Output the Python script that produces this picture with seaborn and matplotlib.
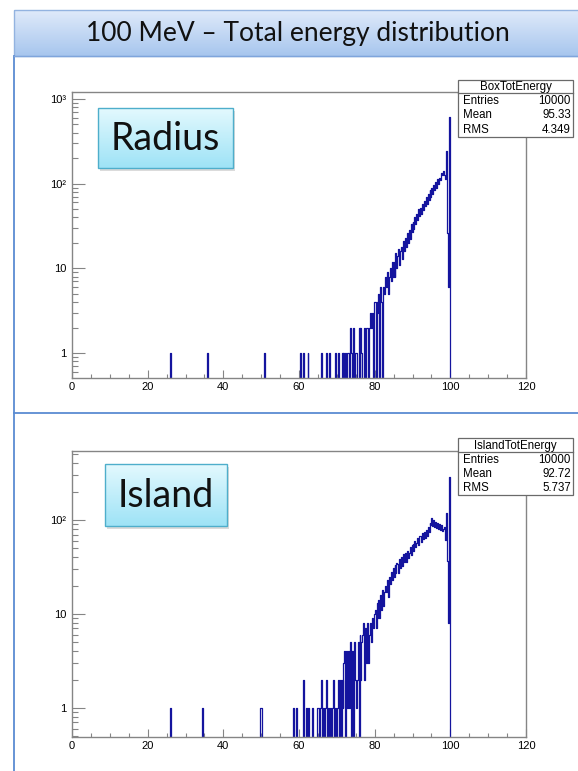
import numpy as np
import pandas as pd
import matplotlib
matplotlib.use("Agg")
import matplotlib.pyplot as plt
import seaborn as sns
from matplotlib.patches import Rectangle
from matplotlib.ticker import FixedLocator, FixedFormatter, MultipleLocator, LogLocator, NullFormatter

# histogram binning (MeV)
bin_width = 0.25
x_ticks = [0, 20, 40, 60, 80, 100, 120]

# single entries below 60 MeV
radius_isolated = [26.1, 35.9, 50.8]
island_isolated = [26.1, 34.4, 49.8, 50.0, 58.5, 59.4]

# counts per 0.25 MeV bin from 60 to 100 MeV
radius_counts = [
    0, 1, 0, 0,   1, 0, 0, 0,   0, 1, 0, 0,   0, 0, 0, 0,   0, 0, 0, 0,
    0, 0, 0, 1,   0, 0, 0, 0,   0, 1, 0, 0,   1, 0, 0, 0,   0, 0, 1, 0,
    0, 1, 0, 0,   0, 1, 0, 1,   0, 1, 0, 1,   1, 0, 2, 1,   0, 2, 0, 1,
    1, 0, 0, 2,   0, 2, 1, 0,   0, 2, 0, 2,   2, 0, 2, 3,   2, 3, 0, 4,
    4, 0, 4, 3,   5, 0, 6, 4,   0, 6, 5, 8,   6, 9, 5, 8,   10, 7, 12, 8,
    12, 8, 15, 10,   14, 17, 11, 16,   18, 13, 21, 16,   23, 18, 26, 20,
    28, 22, 33, 27,   35, 29, 40, 33,   44, 37, 50, 41,   52, 44, 58, 49,
    62, 54, 70, 58,   75, 65, 84, 70,   88, 76, 96, 84,   104, 90, 115, 98,
    118, 112, 132, 125,   142, 125, 115, 245,   60, 26, 6, 620,
]
island_counts = [
    0, 0, 0, 0,   2, 0, 0, 1,   0, 0, 1, 0,   0, 0, 1, 0,   0, 0, 0, 1,
    1, 0, 1, 2,   0, 1, 0, 1,   1, 2, 0, 1,   0, 1, 0, 1,   2, 0, 1, 0,
    1, 2, 0, 2,   0, 2, 1, 3,   4, 0, 4, 1,   4, 1, 5, 0,   4, 0, 5, 2,
    1, 2, 5, 0,   6, 2, 5, 6,   8, 2, 7, 3,   8, 3, 6, 8,   5, 9, 7, 10,
    11, 7, 13, 9,   14, 9, 16, 11,   18, 12, 17, 20,   17, 23, 15, 25,
    21, 28, 23, 31,   25, 33, 27, 35,   34, 27, 38, 31,   40, 32, 43, 36,
    44, 36, 47, 39,   45, 52, 42, 54,   55, 47, 60, 52,   57, 65, 54, 67,
    68, 58, 73, 63,   75, 65, 79, 68,   84, 74, 92, 88,   105, 86, 99, 84,
    95, 82, 92, 80,   90, 79, 88, 76,   80, 84, 61, 118,   58, 37, 8, 285,
]

radius_stats = ["BoxTotEnergy", "10000", "95.33", "4.349"]
island_stats = ["IslandTotEnergy", "10000", "92.72", "5.737"]

W, H = 578, 771
line_color = "#14149e"
frame_color = "#858585"
root_font = ["Liberation Sans", "DejaVu Sans"]

fig = plt.figure(figsize=(W / 100, H / 100), dpi=100)

def fx(px):
    return px / W

def fy(py):
    return 1 - py / H

# background layer: title bar and slide frame lines
bg = fig.add_axes([0, 0, 1, 1], zorder=0)
grad = np.linspace(0, 1, 64)[:, None, None]
top_c = np.array([0.875, 0.918, 0.980])
bot_c = np.array([0.655, 0.776, 0.933])
bg.imshow(top_c + (bot_c - top_c) * grad, extent=(14, 580, 56, 10), aspect="auto", zorder=1)
bg.add_patch(Rectangle((14, 10), 570, 46, fill=False, ec="#93b3e0", lw=1.0, zorder=2))
bg.text(298, 33, "100 MeV \u2013 Total energy distribution", ha="center", va="center",
        fontsize=19, family=["Lato", "DejaVu Sans"], color="#111111", zorder=3)
bg.plot([14, 14], [56, H], color="#5b8bd2", lw=1.3, zorder=2)
bg.plot([14, W], [413, 413], color="#5b8bd2", lw=1.3, zorder=2)
bg.plot([14, W], [56, 56], color="#7fa5dc", lw=1.0, zorder=2)
bg.set_xlim(0, W)
bg.set_ylim(H, 0)
bg.axis("off")

n_bins = int(round(120 / bin_width))
centers = (np.arange(n_bins) + 0.5) * bin_width

def full_hist(isolated, counts):
    c = np.zeros(n_bins)
    for e in isolated:
        c[int(e // bin_width)] += 1
    start = int(round(60 / bin_width))
    c[start:start + len(counts)] = counts
    return pd.DataFrame({"energy": centers, "count": c})

panels = [
    dict(df=full_hist(radius_isolated, radius_counts), top=92, bottom=378,
         ylim=(0.507, 1210), yt=[1, 10, 100, 1000], ytl=["1", "10", "10\u00b2", "10\u00b3"],
         stats=radius_stats, box=(458, 80, 573, 137), sep=93,
         label="Radius", lbox=(98, 108, 233, 168)),
    dict(df=full_hist(island_isolated, island_counts), top=451, bottom=737,
         ylim=(0.49, 542), yt=[1, 10, 100], ytl=["1", "10", "10\u00b2"],
         stats=island_stats, box=(458, 438, 573, 495), sep=452,
         label="Island", lbox=(105, 464, 227, 526)),
]

ov = fig.add_axes([0, 0, 1, 1], zorder=3)
ov.patch.set_alpha(0)

for p in panels:
    ax = fig.add_axes([fx(72), fy(p["bottom"]), fx(526) - fx(72), (p["bottom"] - p["top"]) / H], zorder=1)
    sns.histplot(data=p["df"], x="energy", weights="count", binwidth=bin_width, binrange=(0, 120),
                 element="step", fill=False, color=line_color, linewidth=0.9, ax=ax)
    ax.set_yscale("log")
    ax.set_xlim(0, 120)
    ax.set_ylim(*p["ylim"])
    ax.set_xlabel("")
    ax.set_ylabel("")
    ax.xaxis.set_major_locator(FixedLocator(x_ticks))
    ax.xaxis.set_major_formatter(FixedFormatter([str(t) for t in x_ticks]))
    ax.xaxis.set_minor_locator(MultipleLocator(5))
    ax.yaxis.set_major_locator(FixedLocator(p["yt"]))
    ax.yaxis.set_major_formatter(FixedFormatter(p["ytl"]))
    ax.yaxis.set_minor_locator(LogLocator(base=10, subs=np.arange(2, 10)))
    ax.yaxis.set_minor_formatter(NullFormatter())
    ax.tick_params(axis="x", which="major", direction="in", length=6, width=0.8,
                   color=frame_color, labelsize=8, pad=3)
    ax.tick_params(axis="x", which="minor", direction="in", length=3, width=0.8, color=frame_color)
    ax.tick_params(axis="y", which="major", direction="in", length=9.5, width=0.8,
                   color=frame_color, labelsize=8, pad=4)
    ax.tick_params(axis="y", which="minor", direction="in", length=4.5, width=0.8, color=frame_color)
    for lab in ax.get_xticklabels() + ax.get_yticklabels():
        lab.set_family(root_font)
    for s in ax.spines.values():
        s.set_color(frame_color)
        s.set_linewidth(1.0)

    # stat box
    x0, y0, x1, y1 = p["box"]
    ov.add_patch(Rectangle((x0, y0), x1 - x0, y1 - y0, fc="white", ec="#6a6a6a", lw=0.9, zorder=2))
    ov.plot([x0, x1], [p["sep"], p["sep"]], color="#6a6a6a", lw=0.9, zorder=3)
    name, entries, mean, rms = p["stats"]
    ov.text((x0 + x1) / 2, (y0 + p["sep"]) / 2 + 0.5, name, ha="center", va="center",
            fontsize=8.3, family=root_font, zorder=4)
    rows = [("Entries", entries), ("Mean", mean), ("RMS", rms)]
    row_h = (y1 - p["sep"]) / 3
    for i, (k, v) in enumerate(rows):
        yy = p["sep"] + row_h * (i + 0.5) + 0.5
        ov.text(x0 + 5, yy, k, ha="left", va="center", fontsize=8.3, family=root_font, zorder=4)
        ov.text(x1 - 2, yy, v, ha="right", va="center", fontsize=8.3, family=root_font, zorder=4)

    # method label box
    lx0, ly0, lx1, ly1 = p["lbox"]
    ov.add_patch(Rectangle((lx0 + 2, ly0 + 3), lx1 - lx0, ly1 - ly0, fc="#9a9a9a", ec="none",
                           alpha=0.35, zorder=1))
    lt = np.array([0.890, 0.976, 0.996])
    lb = np.array([0.620, 0.890, 0.965])
    ov.imshow(lt + (lb - lt) * grad, extent=(lx0, lx1, ly1, ly0), aspect="auto", zorder=2)
    ov.add_patch(Rectangle((lx0, ly0), lx1 - lx0, ly1 - ly0, fill=False, ec="#4eaecb", lw=1.0, zorder=3))
    ov.text((lx0 + lx1) / 2, (ly0 + ly1) / 2 + 1, p["label"], ha="center", va="center",
            fontsize=27, family=["Lato", "DejaVu Sans"], color="#111111", zorder=4)

ov.set_xlim(0, W)
ov.set_ylim(H, 0)
ov.axis("off")

fig.savefig("out.png", dpi=100)
